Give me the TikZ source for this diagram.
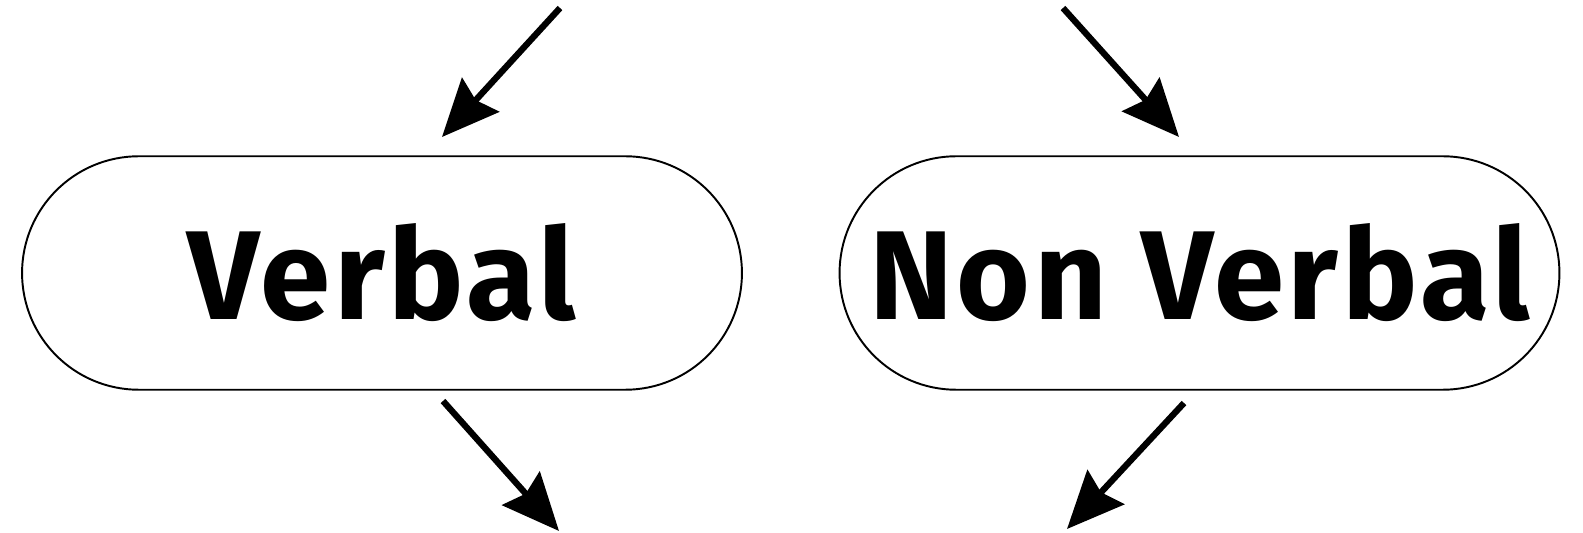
\documentclass[tikz,border=0pt]{standalone}
\usepackage{fontspec}
\setmainfont{Fira Sans}[LetterSpace=3]
\usepackage{tikz}
\usetikzlibrary{arrows.meta,positioning,shapes.misc}

\begin{document}
\begin{tikzpicture}[x=0.02cm,y=-0.02cm,
pill/.style={draw=black,line width=1.1pt,rounded rectangle,minimum width=14.4cm,minimum height=4.67cm,inner sep=0pt,font=\fontsize{72}{80}\selectfont\bfseries},
flow/.style={-{Stealth[length=1.14cm,width=1.0cm,inset=0.14cm]},line width=3.6pt,draw=black}]
\useasboundingbox (0,0) rectangle (1583,533);
\node[pill] (verbal) at (382,273) {Verbal};
\node[pill] (nonverbal) at (1199.5,273) {Non Verbal};
\coordinate (in1) at (560,8);
\coordinate (tip1) at (442,137);
\coordinate (in2) at (1063,8);
\coordinate (tip2) at (1179,137);
\coordinate (out1) at (443,401);
\coordinate (tip3) at (559,531);
\coordinate (out2) at (1184,403);
\coordinate (tip4) at (1067,529);
\draw[flow] (in1)--(tip1);
\draw[flow] (in2)--(tip2);
\draw[flow] (out1)--(tip3);
\draw[flow] (out2)--(tip4);
\end{tikzpicture}
\end{document}
